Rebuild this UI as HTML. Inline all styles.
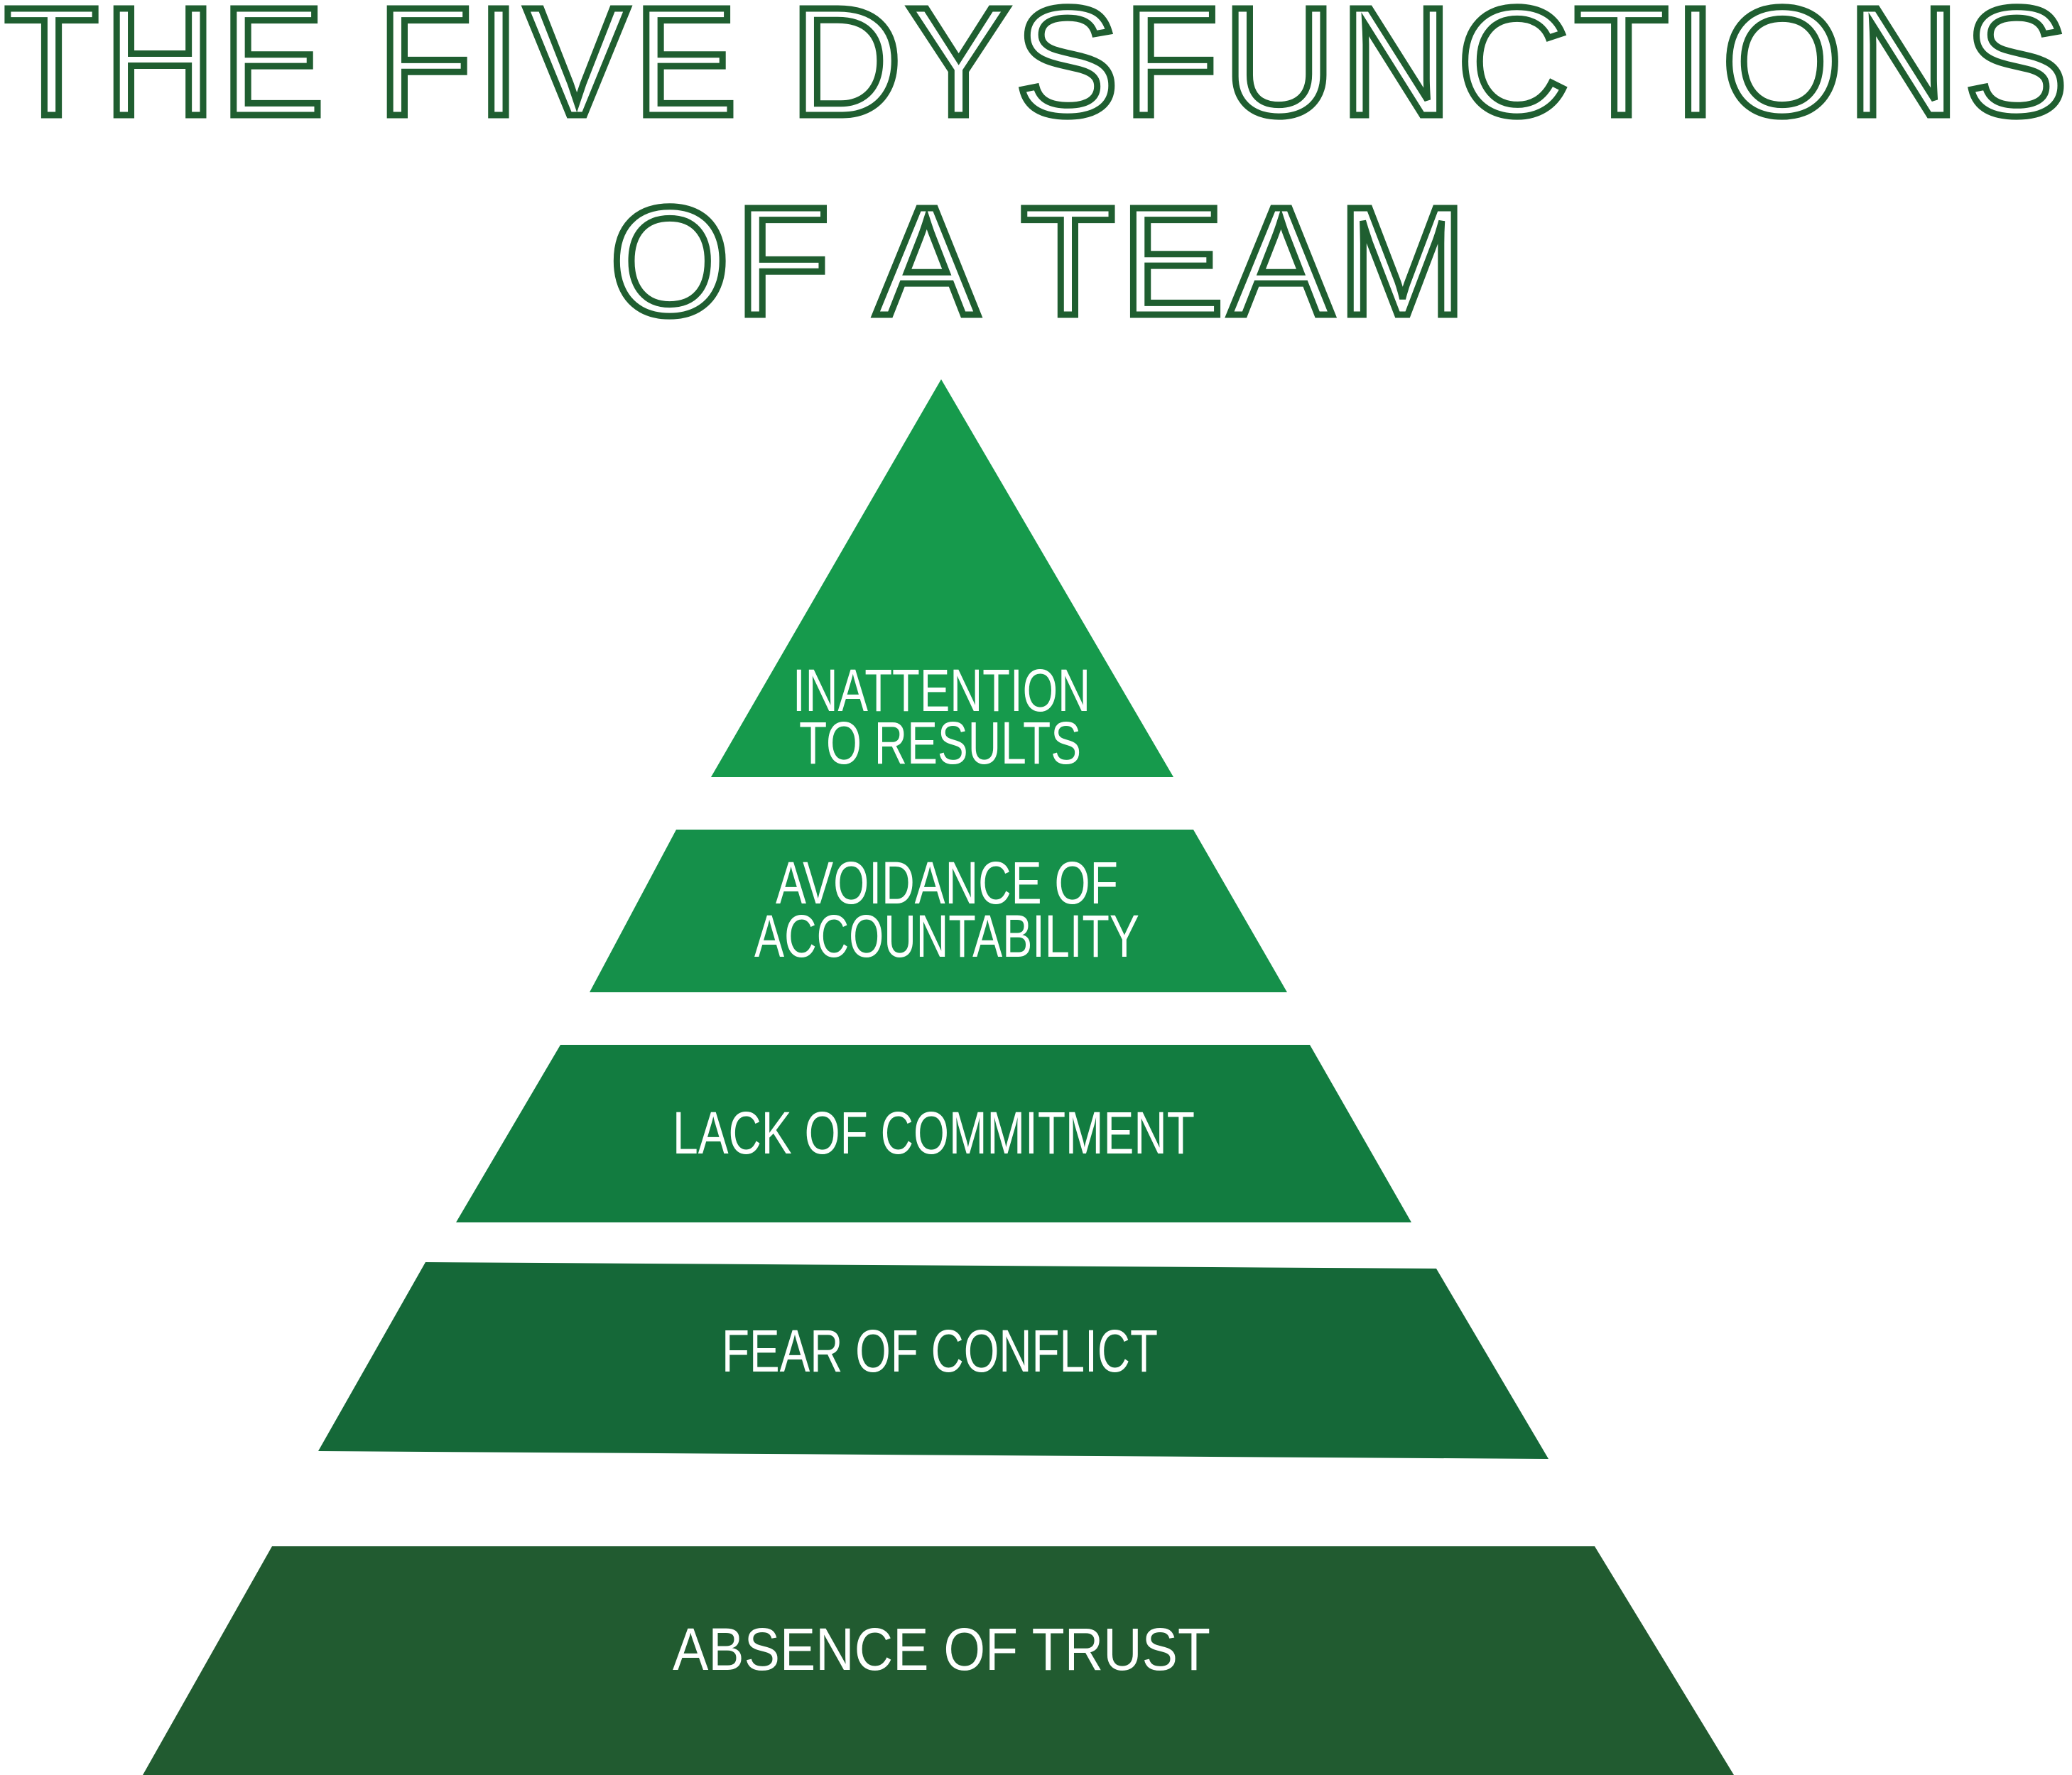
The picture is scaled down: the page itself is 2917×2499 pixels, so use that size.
<!DOCTYPE html>
<html><head><meta charset="utf-8"><style>
html,body{margin:0;padding:0;background:#fff;}
svg{display:block;}
</style></head><body>
<svg width="2917" height="2499" viewBox="0 0 2917 2499" xmlns="http://www.w3.org/2000/svg">
<g font-family="Liberation Sans, sans-serif" fill="#fff" stroke="#1f5e30" stroke-width="9" stroke-linejoin="miter">
<text x="6" y="162" font-size="218" textLength="2905" lengthAdjust="spacing">THE FIVE DYSFUNCTIONS</text>
<text x="858" y="443" font-size="218" textLength="1207" lengthAdjust="spacing">OF A TEAM</text>
</g>
<polygon points="1325,534 1652,1094 1001,1094" fill="#169a4c"/>
<polygon points="952,1168 1680,1168 1812,1397 830,1397" fill="#15904a"/>
<polygon points="789,1471 1844,1471 1987,1721 642,1721" fill="#127c40"/>
<polygon points="599,1777 2022,1786 2180,2054 448,2043" fill="#156838"/>
<polygon points="383,2177 2245,2177 2441,2499 201,2499" fill="#215b30"/>
<g font-family="Liberation Sans, sans-serif" fill="#fff" font-size="84">
<text x="1116" y="1001" textLength="419" lengthAdjust="spacingAndGlyphs">INATTENTION</text>
<text x="1125" y="1075" textLength="397" lengthAdjust="spacingAndGlyphs">TO RESULTS</text>
<text x="1092" y="1272" textLength="482" lengthAdjust="spacingAndGlyphs">AVOIDANCE OF</text>
<text x="1062" y="1347" textLength="542" lengthAdjust="spacingAndGlyphs">ACCOUNTABILITY</text>
<text x="947" y="1624" textLength="735" lengthAdjust="spacingAndGlyphs">LACK OF COMMITMENT</text>
<text x="1016" y="1931" textLength="614" lengthAdjust="spacingAndGlyphs">FEAR OF CONFLICT</text>
<text x="947" y="2351" textLength="757" lengthAdjust="spacingAndGlyphs">ABSENCE OF TRUST</text>
</g>
</svg>
</body></html>
